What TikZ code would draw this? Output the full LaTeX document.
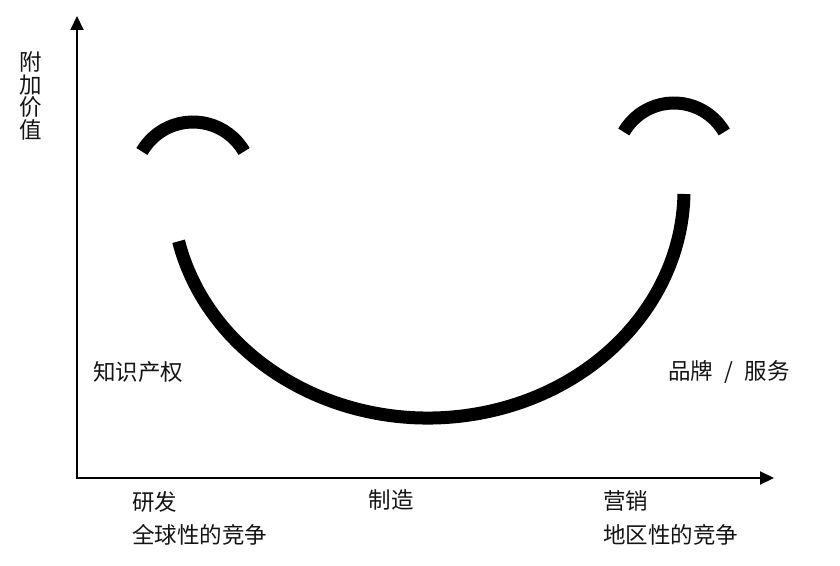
\documentclass[tikz,border=0pt]{standalone}
\usepackage{fontspec}
\newfontfamily\cjk{Noto Sans CJK SC}
\usetikzlibrary{arrows.meta}
\begin{document}
\begin{tikzpicture}[x=1pt,y=1pt,
  axis/.style={line width=2pt,line join=miter,{Triangle[length=14pt,width=13pt]}-{Triangle[length=14pt,width=13pt]}},
  smile/.style={line width=13pt,line cap=butt},
  lbl/.style={font=\cjk\fontsize{22.5}{22.7}\selectfont, inner sep=0pt, text=black!92}]
\useasboundingbox (0,0) rectangle (840,565);
\fill[white] (0,0) rectangle (840,565);
% axes
\coordinate (O) at (77,87);
\coordinate (ytip) at (77,549);
\coordinate (xtip) at (774,87);
\draw[axis] (ytip) -- (O) -- (xtip);
% mouth
\draw[smile] (428,375) ++(-167:256 and 228) arc[start angle=-167,end angle=-1,x radius=256,y radius=228];
% eyes
\draw[smile] (193,384) ++(30:59) arc[start angle=30,end angle=150,radius=59];
\draw[smile] (674,404) ++(30:58) arc[start angle=30,end angle=150,radius=58];
% labels
\node[lbl, align=center] (yl) at (31,469) {附\\加\\价\\值};
\node[lbl, anchor=west] (ip) at (93,193) {知识产权};
\node[lbl, anchor=west] (brand) at (668,193) {品牌\hspace{0.5em}/\hspace{0.5em}服务};
\node[lbl, anchor=west] (rd) at (132,63) {研发};
\node[lbl, anchor=west] (glob) at (132,30) {全球性的竞争};
\node[lbl] (mfg) at (391,65) {制造};
\node[lbl, anchor=west] (mkt) at (603,64) {营销};
\node[lbl, anchor=west] (loc) at (603,30) {地区性的竞争};
\end{tikzpicture}
\end{document}
